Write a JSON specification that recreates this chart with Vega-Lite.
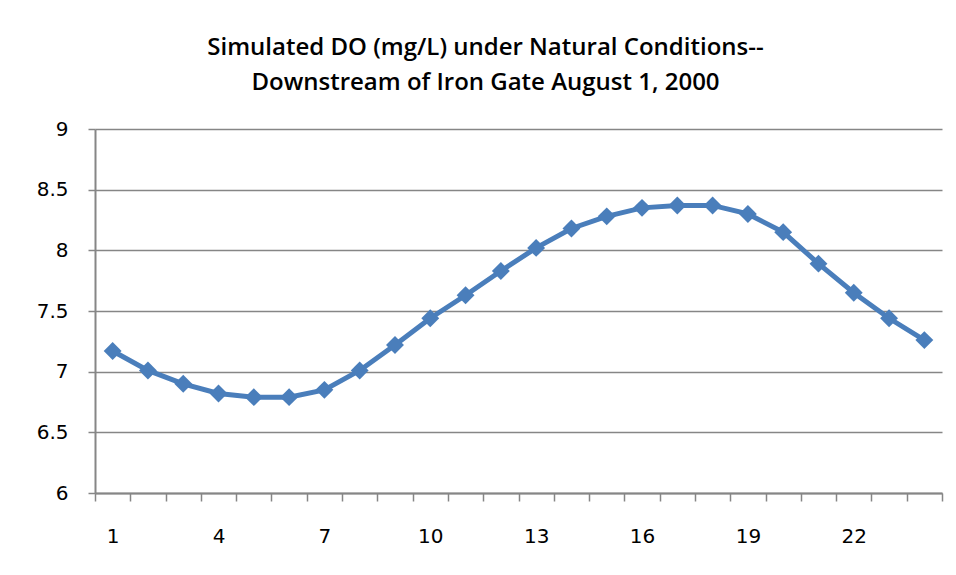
{
  "$schema": "https://vega.github.io/schema/vega-lite/v6.json",
  "autosize": "none",
  "padding": {"left": 95, "top": 129, "right": 14, "bottom": 82},
  "width": 847,
  "height": 364,
  "background": "white",
  "title": {
    "text": ["Simulated DO (mg/L) under Natural Conditions--", "Downstream of Iron Gate August 1, 2000"],
    "anchor": "middle",
    "dx": -33,
    "offset": 24,
    "font": "Open Sans",
    "fontSize": 24,
    "fontWeight": 600,
    "color": "#000000",
    "lineHeight": 35
  },
  "data": {
    "values": [
      {"hour": 1, "do": 7.17},
      {"hour": 2, "do": 7.01},
      {"hour": 3, "do": 6.90},
      {"hour": 4, "do": 6.82},
      {"hour": 5, "do": 6.79},
      {"hour": 6, "do": 6.79},
      {"hour": 7, "do": 6.85},
      {"hour": 8, "do": 7.01},
      {"hour": 9, "do": 7.22},
      {"hour": 10, "do": 7.44},
      {"hour": 11, "do": 7.63},
      {"hour": 12, "do": 7.83},
      {"hour": 13, "do": 8.02},
      {"hour": 14, "do": 8.18},
      {"hour": 15, "do": 8.28},
      {"hour": 16, "do": 8.35},
      {"hour": 17, "do": 8.37},
      {"hour": 18, "do": 8.37},
      {"hour": 19, "do": 8.30},
      {"hour": 20, "do": 8.15},
      {"hour": 21, "do": 7.89},
      {"hour": 22, "do": 7.65},
      {"hour": 23, "do": 7.44},
      {"hour": 24, "do": 7.26}
    ]
  },
  "encoding": {
    "x": {
      "field": "hour",
      "type": "ordinal",
      "bandPosition": 0.5,
      "scale": {"type": "band", "paddingInner": 0, "paddingOuter": 0},
      "axis": {
        "title": null,
        "labelAngle": 0,
        "labelExpr": "(datum.value - 1) % 3 == 0 ? datum.label : ''",
        "tickBand": "extent",
        "tickSize": 8,
        "tickWidth": 1.5,
        "tickColor": "#868686",
        "domainColor": "#868686",
        "domainWidth": 2,
        "labelPadding": 25,
        "labelFont": "DejaVu Sans",
        "labelFontSize": 20,
        "labelColor": "#000000",
        "grid": false
      }
    },
    "y": {
      "field": "do",
      "type": "quantitative",
      "scale": {"domain": [6, 9], "nice": false, "zero": false},
      "axis": {
        "title": null,
        "values": [6, 6.5, 7, 7.5, 8, 8.5, 9],
        "format": "~g",
        "grid": true,
        "gridColor": "#868686",
        "gridWidth": 1.5,
        "tickSize": 7,
        "tickWidth": 1.5,
        "tickColor": "#868686",
        "domainColor": "#868686",
        "domainWidth": 2,
        "labelPadding": 20,
        "labelFont": "DejaVu Sans",
        "labelFontSize": 20,
        "labelColor": "#000000"
      }
    }
  },
  "layer": [
    {"mark": {"type": "line", "color": "#4A7EBB", "strokeWidth": 5}},
    {"mark": {"type": "point", "shape": "diamond", "filled": true, "opacity": 1, "color": "#4A7EBB", "size": 320}}
  ],
  "config": {"view": {"stroke": null}}
}
